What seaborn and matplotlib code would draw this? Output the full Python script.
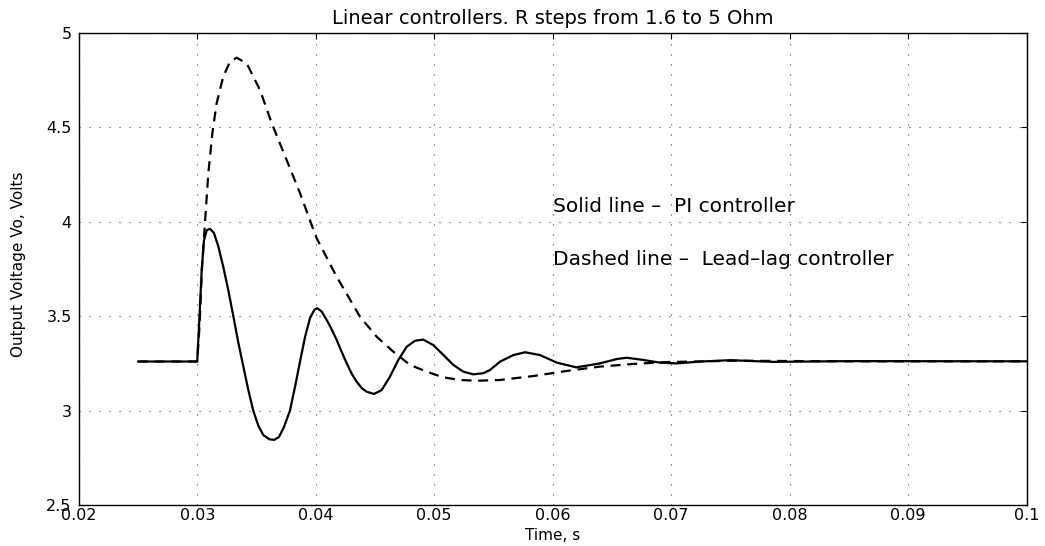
import pandas as pd
import seaborn as sns
import matplotlib.pyplot as plt

# values
solid_time = [0.025, 0.0300, 0.03018, 0.03038, 0.03057, 0.0308, 0.03108, 0.03142, 0.03178,
              0.0322, 0.03262, 0.03305, 0.03347, 0.03389, 0.03431, 0.03473, 0.03516, 0.03558,
              0.0361, 0.0365, 0.0369, 0.0373, 0.03783, 0.0383, 0.03868, 0.0391, 0.03952,
              0.0399, 0.04014, 0.0405, 0.04093, 0.04135, 0.04177, 0.0422, 0.04262, 0.04304,
              0.04346, 0.0439, 0.0443, 0.04492, 0.04557, 0.04627, 0.04697, 0.04768, 0.04838,
              0.04908, 0.04992, 0.05077, 0.05161, 0.05246, 0.0533, 0.05414, 0.05471, 0.05555,
              0.05668, 0.05767, 0.05893, 0.06034, 0.0620, 0.06399, 0.0654, 0.06625, 0.06765,
              0.06906, 0.07046, 0.0725, 0.075, 0.0786, 0.085, 0.1]
solid_volts = [3.26, 3.26, 3.48, 3.745, 3.90, 3.955, 3.963, 3.94, 3.87,
               3.762, 3.639, 3.50, 3.36, 3.235, 3.11, 3.00, 2.92, 2.87,
               2.848, 2.845, 2.86, 2.91, 3.0, 3.14, 3.26, 3.39, 3.49,
               3.535, 3.542, 3.525, 3.48, 3.43, 3.374, 3.31, 3.25, 3.195,
               3.153, 3.118, 3.10, 3.088, 3.109, 3.18, 3.268, 3.338, 3.37,
               3.376, 3.347, 3.295, 3.242, 3.206, 3.192, 3.198, 3.215, 3.259,
               3.294, 3.309, 3.294, 3.254, 3.229, 3.25, 3.273, 3.28, 3.268,
               3.254, 3.25, 3.26, 3.267, 3.258, 3.262, 3.261]

dashed_time = [0.025, 0.0300, 0.0302, 0.0304, 0.03066, 0.03094, 0.03128, 0.03164, 0.0322,
               0.03277, 0.03333, 0.03418, 0.0353, 0.03629, 0.03755, 0.03868, 0.03966,
               0.04008, 0.04177, 0.04374, 0.04515, 0.04655, 0.04796, 0.04937, 0.05077,
               0.05218, 0.05358, 0.05555, 0.05836, 0.06118, 0.06399, 0.0668, 0.06962,
               0.07524, 0.085, 0.1]
dashed_volts = [3.26, 3.26, 3.45, 3.75, 4.0, 4.257, 4.469, 4.628, 4.769,
                4.848, 4.869, 4.839, 4.698, 4.522, 4.327, 4.151, 3.983,
                3.913, 3.709, 3.497, 3.391, 3.312, 3.242, 3.206, 3.176,
                3.162, 3.158, 3.162, 3.183, 3.21, 3.233, 3.247, 3.257,
                3.264, 3.261, 3.261]

x_ticks = [0.02, 0.03, 0.04, 0.05, 0.06, 0.07, 0.08, 0.09, 0.1]
x_labels = ['0.02', '0.03', '0.04', '0.05', '0.06', '0.07', '0.08', '0.09', '0.1']
y_ticks = [2.5, 3, 3.5, 4, 4.5, 5]
y_labels = ['2.5', '3', '3.5', '4', '4.5', '5']


def main():
    sns.set_theme(style="white")
    plt.rcParams['font.family'] = ['DejaVu Sans']
    plt.rcParams['text.color'] = 'black'
    plt.rcParams['axes.labelcolor'] = 'black'
    plt.rcParams['xtick.color'] = 'black'
    plt.rcParams['ytick.color'] = 'black'

    solid = pd.DataFrame({'time': solid_time, 'volts': solid_volts})
    dashed = pd.DataFrame({'time': dashed_time, 'volts': dashed_volts})

    fig = plt.figure(figsize=(10.45, 5.46), dpi=100)
    ax = fig.add_axes([0.0753, 0.0751, 0.9072, 0.8645])

    sns.lineplot(data=dashed, x='time', y='volts', color='black', linewidth=1.6,
                 linestyle=(0, (4.5, 3)), estimator=None, ax=ax)
    sns.lineplot(data=solid, x='time', y='volts', color='black', linewidth=1.6,
                 estimator=None, ax=ax)

    ax.set_xlim(0.02, 0.1)
    ax.set_ylim(2.5, 5)
    ax.set_xticks(x_ticks)
    ax.set_xticklabels(x_labels)
    ax.set_yticks(y_ticks)
    ax.set_yticklabels(y_labels)
    ax.grid(True, color='#444444', linestyle=(0, (1, 8)), linewidth=0.8)
    ax.tick_params(direction='in', length=4.5, width=0.8, top=True, right=True,
                   labelsize=11.5, colors='black')
    ax.tick_params(axis='x', pad=2.5)
    ax.tick_params(axis='y', pad=5)
    for spine in ax.spines.values():
        spine.set_color('black')
        spine.set_linewidth(1.0)

    ax.set_title('Linear controllers. R steps from 1.6 to 5 Ohm', fontsize=14, pad=6.8,
                 color='black')
    ax.set_xlabel('Time, s', fontsize=11, color='black')
    ax.xaxis.set_label_coords(0.5, -0.0487)
    ax.set_ylabel('Output Voltage Vo, Volts', fontsize=11, color='black')
    ax.yaxis.set_label_coords(-0.0556, 0.51)

    ax.text(0.0600, 4.054, 'Solid line –  PI controller', fontsize=14.5, va='baseline',
            color='black')
    ax.text(0.0600, 3.771, 'Dashed line –  Lead–lag controller', fontsize=14.5,
            va='baseline', color='black')

    fig.savefig('out.png', dpi=100)


if __name__ == "__main__":
    main()
